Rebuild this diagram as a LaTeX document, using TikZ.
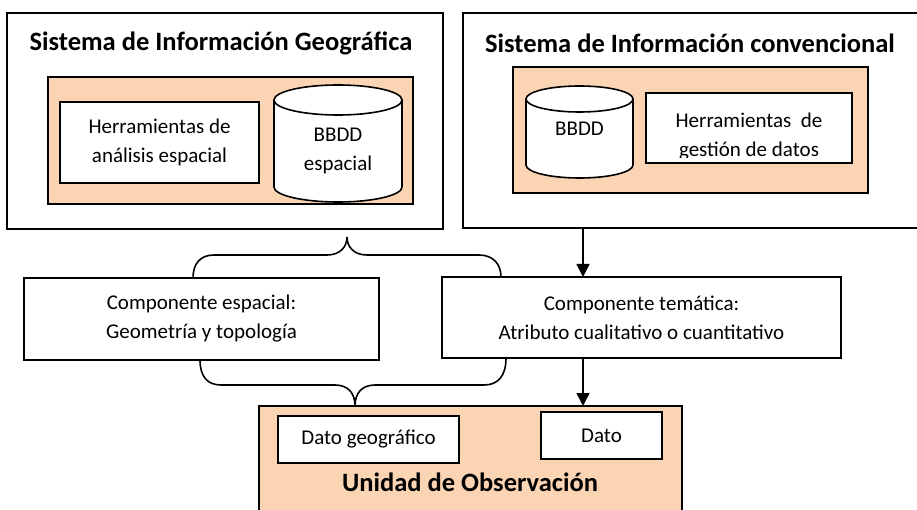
\documentclass[tikz,border=0pt]{standalone}
\usepackage{fontspec}
\setmainfont{Carlito}
\usetikzlibrary{arrows.meta}
\definecolor{durazno}{HTML}{FBD4B4}

\tikzset{
  caja/.style={draw, line width=1.6pt, fill=white, inner sep=0pt, outer sep=0pt,
    align=center, font=\fontsize{21}{29}\selectfont},
  fondo/.style={caja, fill=durazno},
  texto/.style={caja, draw=none, fill=none},
  hueco/.style={inner sep=0pt, outer sep=0pt},
  titulo/.style={font=\fontsize{26.5}{32}\selectfont\bfseries},
  linea/.style={line width=1.6pt},
  flecha/.style={line width=1.6pt, -{Triangle[length=13pt,width=13pt]}}
}

\begin{document}
\begin{tikzpicture}[x=1pt,y=-1pt]
  \useasboundingbox (0,0) rectangle (917,510);
  \clip (0,0) rectangle (917,510);

  % Sistema de Informacion Geografica
  \node[caja, minimum width=436pt, minimum height=216pt] (sig) at (225,121) {};
  \node[titulo] (sigtit) at (221,43) {Sistema de Información Geográfica};
  \node[fondo, minimum width=365pt, minimum height=127pt] (sigfondo) at (230.5,140.5) {};
  \node[caja, minimum width=199pt, minimum height=81pt] (analisis) at (159.5,142.5) {Herramientas de\\análisis espacial};

  % BBDD espacial (cilindro)
  \node[hueco, minimum width=128pt, minimum height=117pt] (bdesp) at (338,143.5) {};
  \filldraw[linea, fill=white] ([yshift=-15pt]bdesp.north west) -- ([yshift=15pt]bdesp.south west)
    arc[start angle=180, end angle=0, x radius=64, y radius=15] -- ([yshift=-15pt]bdesp.north east) -- cycle;
  \filldraw[linea, fill=white] ([yshift=-15pt]bdesp.north) ellipse[x radius=64, y radius=15];
  \node[texto] (bdesptxt) at (338,151) {BBDD\\espacial};

  % Sistema de Informacion convencional
  \node[caja, minimum width=477pt, minimum height=215pt] (sic) at (701.5,120.5) {};
  \node[titulo] (sictit) at (690,43) {Sistema de Información convencional};
  \node[fondo, minimum width=355pt, minimum height=126pt] (sicfondo) at (690.5,130) {};

  % BBDD (cilindro)
  \node[hueco, minimum width=107pt, minimum height=92pt] (bd) at (579.5,132) {};
  \filldraw[linea, fill=white] ([yshift=-13pt]bd.north west) -- ([yshift=13pt]bd.south west)
    arc[start angle=180, end angle=0, x radius=53.5, y radius=13] -- ([yshift=-13pt]bd.north east) -- cycle;
  \filldraw[linea, fill=white] ([yshift=-13pt]bd.north) ellipse[x radius=53.5, y radius=13];
  \node[texto] (bdtxt) at (579.5,129) {BBDD};

  % Herramientas de gestion (texto recortado)
  \node[caja, minimum width=206pt, minimum height=70pt] (gestion) at (749,128) {};
  \begin{scope}
    \clip ([yshift=5pt]gestion.south west) rectangle (gestion.north east);
    \node[texto] (gestiontxt) at (749,137) {Herramientas\ \ de\\gestión de datos};
  \end{scope}
  \draw[linea] (gestion.south west) rectangle (gestion.north east);

  % Componentes
  \node[caja, minimum width=355pt, minimum height=82pt] (ce) at (201.5,319) {Componente espacial:\\Geometría y topología};
  \node[caja, minimum width=399pt, minimum height=81pt] (ct) at (641.5,317.5) {Componente temática:\\Atributo cualitativo o cuantitativo};

  % Unidad de Observacion
  \node[fondo, minimum width=423pt, minimum height=134pt] (unidad) at (470.5,473) {};
  \node[caja, minimum width=181pt, minimum height=47pt] (geo) at (368.5,439.5) {Dato geográfico};
  \node[caja, minimum width=121pt, minimum height=47pt] (dato) at (601.5,435.5) {Dato};
  \node[titulo] (unitit) at (470,482) {Unidad de Observación};

  % Flechas
  \coordinate (eje) at (583,0);
  \draw[flecha] (eje |- sic.south) -- (eje |- ct.north);
  \draw[flecha] (eje |- ct.south) -- (eje |- unidad.north);

  % Llave superior
  \draw[linea] (193,0 |- ce.north) .. controls (193,264) and (200,255) .. (214,255)
    -- (327,255) .. controls (340,255) and (347,247) .. (347,237)
    .. controls (347,247) and (354,255) .. (367,255)
    -- (479,255) .. controls (493,255) and (501,264) .. (501,0 |- ct.north);

  % Llave inferior
  \draw[linea] (200,0 |- ce.south) .. controls (200,376) and (207,385) .. (221,385)
    -- (335,385) .. controls (348,385) and (355,393) .. (355,0 |- unidad.north)
    .. controls (355,393) and (362,385) .. (375,385)
    -- (484,385) .. controls (498,385) and (506,376) .. (506,0 |- ct.south);
\end{tikzpicture}
\end{document}
